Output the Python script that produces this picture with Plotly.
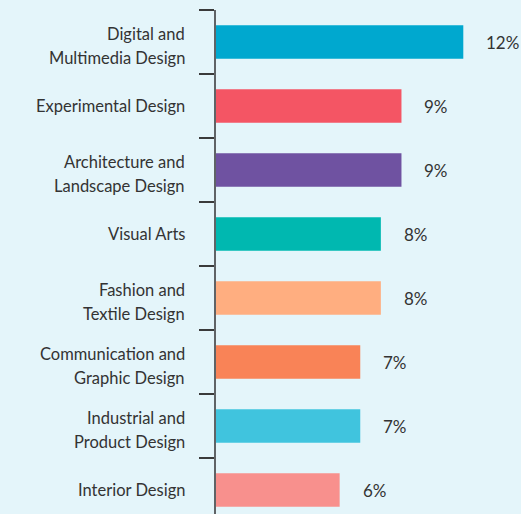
import plotly.graph_objects as go

BG = "#e4f5fa"
TEXT = "#333333"
FONT = "Lato"

categories = [
    "Digital and<br>Multimedia Design",
    "Experimental Design",
    "Architecture and<br>Landscape Design",
    "Visual Arts",
    "Fashion and<br>Textile Design",
    "Communication and<br>Graphic Design",
    "Industrial and<br>Product Design",
    "Interior Design",
]
shares = [12, 9, 9, 8, 8, 7, 7, 6]
colours = ["#00a8cf", "#f45564", "#6f52a1", "#00b8b0",
           "#ffae80", "#f98357", "#40c4de", "#f8908d"]

fig = go.Figure(go.Bar(
    x=shares, y=categories, orientation="h",
    marker=dict(color=colours, line=dict(width=0)),
    hoverinfo="skip",
))

# value labels sit a little way past the bar end
for cat, val in zip(categories, shares):
    fig.add_annotation(
        x=val, y=cat, text=f"{val}%", showarrow=False,
        xanchor="left", xshift=21,
        font=dict(size=17, color=TEXT, family=FONT),
    )

# category labels: one annotation per line so the line spacing is wider
for cat in categories:
    lines = cat.split("<br>")
    shifts = [0] if len(lines) == 1 else [8, -16]
    for line, dy in zip(lines, shifts):
        fig.add_annotation(
            x=0, xref="paper", y=cat, text=line, showarrow=False,
            xanchor="right", xshift=-29, yshift=dy,
            font=dict(size=16.5, color=TEXT, family=FONT),
        )

fig.update_layout(
    width=521, height=514,
    paper_bgcolor=BG, plot_bgcolor=BG,
    margin=dict(l=216, r=0, t=10, b=0),
    bargap=0.48,
    showlegend=False,
    font=dict(family=FONT, size=16, color=TEXT),
    xaxis=dict(range=[0, 14.8], visible=False, fixedrange=True),
    yaxis=dict(
        range=[7.375, -0.5], type="category",
        showline=True, linecolor="#5f6366", linewidth=2,
        ticks="outside", tickson="boundaries", ticklen=15,
        tickwidth=2, tickcolor="#3a3a3a",
        showticklabels=False, fixedrange=True,
        showgrid=False, zeroline=False,
    ),
)

fig.write_html("out.html", config={"displayModeBar": False},
               post_script="document.body.style.margin='0';")
